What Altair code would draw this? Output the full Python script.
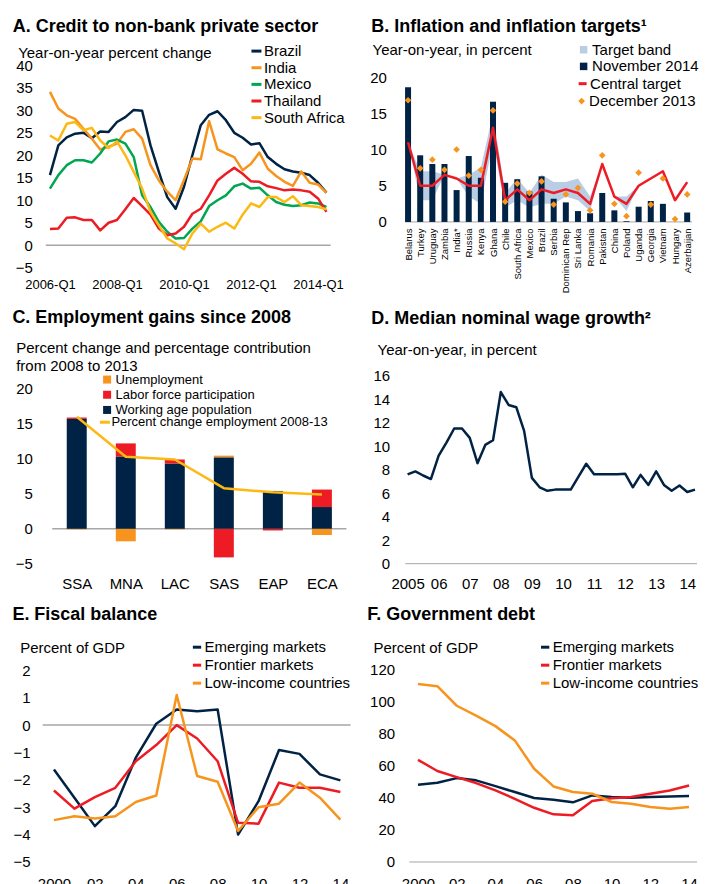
import altair as alt
import pandas as pd

FONT = "Liberation Sans"
NAVY = "#002345"
ORANGE = "#F7941D"
GREEN = "#00A651"
RED = "#ED1C24"
YELLOW = "#FDB913"
BAND = "#B9CDE5"
GREY = "#A6A6A6"

# ---------------- Panel A data ----------------
quarters = [f"{y}-Q{q}" for y in range(2006, 2015) for q in range(1, 5)][:34]
credit_names = ["Brazil", "India", "Mexico", "Thailand", "South Africa"]
brazil = [15.6, 22.2, 24.0, 24.8, 25.0, 23.8, 25.3, 25.2, 27.4, 28.5, 30.1, 29.9, 22.2, 16.3, 10.7, 8.1, 13.0,
          20.0, 26.7, 29.0, 29.8, 27.8, 25.0, 23.9, 22.4, 22.7, 19.6, 18.1, 16.9, 16.4, 16.1, 15.6, 13.9, 11.7]
india = [34.1, 30.4, 28.9, 28.1, 25.9, 23.7, 21.3, 21.9, 22.6, 25.2, 25.8, 23.7, 17.8, 14.4, 11.9, 10.0, 14.5,
         19.3, 19.1, 27.6, 21.3, 20.4, 19.6, 16.7, 18.1, 20.6, 17.0, 15.4, 14.1, 13.2, 16.4, 13.9, 13.5, 11.7]
mexico = [12.6, 15.6, 17.8, 18.9, 18.9, 18.4, 20.4, 23.1, 23.5, 22.6, 19.6, 11.1, 8.5, 5.2, 3.0, 1.5, 1.6,
          3.7, 5.3, 8.7, 10.0, 11.1, 13.1, 13.7, 12.6, 12.8, 11.1, 9.6, 9.0, 8.7, 8.9, 9.5, 9.3, 8.5]
thailand = [3.6, 3.7, 6.1, 6.2, 5.6, 5.6, 3.3, 5.0, 5.6, 8.0, 10.5, 8.7, 6.8, 3.7, 2.2, 2.6, 4.1,
            7.0, 8.1, 11.1, 14.4, 15.9, 17.2, 15.9, 14.2, 14.1, 13.1, 12.7, 12.2, 12.4, 12.2, 11.9, 10.4, 7.4]
south_africa = [24.4, 23.3, 27.0, 27.4, 25.6, 26.1, 23.3, 21.6, 23.1, 20.0, 16.3, 12.6, 7.4, 4.4, 1.5, 0.4, -0.9,
                2.6, 4.8, 3.0, 4.1, 5.0, 3.7, 6.8, 9.3, 8.5, 10.7, 10.7, 9.6, 10.9, 8.9, 8.7, 8.5, 8.0]

# ---------------- Panel B data ----------------
countries = ["Belarus", "Turkey", "Uruguay", "Zambia", "India*", "Russia", "Kenya", "Ghana", "Chile",
             "South Africa", "Mexico", "Brazil", "Serbia", "Dominican Rep", "Sri Lanka", "Romania",
             "Pakistan", "China", "Poland", "Uganda", "Georgia", "Vietnam", "Hungary", "Azerbaijan"]
nov2014 = [18.6, 9.2, 8.0, 8.0, 4.4, 9.1, 6.1, 16.6, 5.4, 5.9, 4.2, 6.3, 3.2, 2.7, 1.5, 1.2,
           4.0, 1.6, 0.1, 2.1, 2.9, 2.5, 0.0, 1.3]
central_target = [11, 5, 5, 6.5, 6, 5, 5, 13, 3, 4.5, 3, 4.5, 4, 4.5, 4, 2.5,
                  8, 3.5, 2.5, 5, 6, 7, 3, 5.5]
dec2013 = [16.8, 7.4, 8.6, 7.2, 10.0, 6.4, 7.2, 15.4, 2.8, 5.3, 4.0, 5.6, 2.4, 3.8, 4.7, 1.6,
           9.2, 2.5, 0.8, 6.8, 2.4, 6.0, 0.4, 3.8]
band_low = [11, 3, 3, 6.5, 6, 3.5, 2.5, 11, 2, 3, 2, 2.5, 2.5, 3.5, 3, 1.5,
            8, 3.5, 1.5, 5, 6, 7, 3, 5.5]
band_high = [11, 7, 7, 6.5, 6, 6.5, 7.5, 15, 4, 6, 4, 6.5, 5.5, 5.5, 6, 3.5,
             8, 3.5, 3.5, 5, 6, 7, 3, 5.5]

# ---------------- Panel C data ----------------
regions = ["SSA", "MNA", "LAC", "SAS", "EAP", "ECA"]
components = ["Unemployment", "Labor force participation", "Working age population"]
unemployment = [-0.1, -1.8, -0.1, 0.25, 0.0, -0.9]
labor_force = [0.2, 1.9, 0.6, -4.1, -0.25, 2.5]
working_age = [15.7, 10.3, 9.3, 10.2, 5.4, 3.1]
employment_change = [16.0, 10.3, 9.9, 5.8, 5.2, 4.9]

# ---------------- Panel D data ----------------
wage_year_labels = ["2005", "06", "07", "08", "09", "10", "11", "12", "13", "14"]
wage_growth = [7.6, 7.85, 7.5, 7.2, 9.2, 10.3, 11.5, 11.5, 10.7, 8.55, 10.1, 10.5, 14.6, 13.5, 13.3, 11.3,
               7.3, 6.5, 6.2, 6.3, 6.3, 6.3, 7.4, 8.5, 7.6, 7.6, 7.6, 7.6, 7.65, 6.5, 7.55, 6.7,
               7.85, 6.7, 6.2, 6.65, 6.1, 6.3]

# ---------------- Panel E / F data ----------------
years = list(range(2000, 2015))
year_labels = ["2000", "02", "04", "06", "08", "10", "12", "14"]
group_names = ["Emerging markets", "Frontier markets", "Low-income countries"]
em_balance = [-1.62, -2.65, -3.69, -2.96, -1.19, 0.05, 0.57, 0.51, 0.57, -4.0, -2.78, -0.91, -1.05, -1.8, -2.02]
fm_balance = [-2.39, -3.05, -2.63, -2.29, -1.32, -0.73, 0.0, -0.49, -1.32, -3.57, -3.6, -2.1, -2.29, -2.29, -2.44]
lic_balance = [-3.47, -3.33, -3.41, -3.33, -2.81, -2.57, 1.1, -1.86, -2.07, -3.87, -3.0, -2.87, -2.1, -2.65, -3.45]
em_debt = [48.2, 49.4, 52.3, 50.9, 47.3, 43.6, 39.9, 38.8, 37.2, 41.5, 40.5, 40.1, 40.5, 40.9, 41.1]
fm_debt = [63.7, 56.7, 52.9, 49.2, 44.6, 39.4, 33.8, 29.7, 29.1, 38.0, 39.7, 40.5, 42.6, 44.6, 47.7]
lic_debt = [111.0, 109.6, 97.4, 91.3, 84.7, 75.8, 58.1, 47.1, 43.6, 42.6, 37.4, 36.3, 34.3, 33.2, 34.3]


# ---------------- helpers ----------------
def arr_expr(labels, index_expr):
    return "[" + ",".join("'" + s + "'" for s in labels) + "][" + index_expr + "]"


def ttl(text, dx, offset):
    return alt.TitleParams(text=text, anchor="start", frame="group", dx=dx, offset=offset,
                           font=FONT, fontSize=18, fontWeight="bold", color="#000")


def yaxis(values, title, tx, ty, pad, line_height=None):
    kw = dict(values=values, title=title, titleAngle=0, titleAlign="left", titleBaseline="alphabetic",
              titleX=tx, titleY=ty, titleFontSize=15, titleFontWeight="normal", titleFont=FONT,
              titleColor="#000", labelFont=FONT, labelFontSize=15, labelColor="#000", labelPadding=pad,
              domain=False, ticks=False, grid=False, labelFlush=False, labelOverlap=False)
    if line_height:
        kw["titleLineHeight"] = line_height
    return alt.Axis(**kw)


def xaxis(values, expr, size, pad, angle=0, offset=0):
    kw = dict(values=values, labelExpr=expr, title=None, labelFont=FONT, labelFontSize=size,
              labelColor="#000", labelPadding=pad, domain=False, ticks=False, grid=False,
              labelFlush=False, labelOverlap=False, labelAngle=angle)
    if offset:
        kw["offset"] = offset
    return alt.Axis(**kw)


def legend(x, y, stype, ssize, fsize=15, rowpad=0.65, offset=1, swidth=0):
    return alt.Legend(orient="none", legendX=x, legendY=y, title=None, symbolType=stype,
                      symbolSize=ssize, symbolStrokeWidth=swidth, labelFont=FONT, labelFontSize=fsize,
                      labelColor="#000", labelOffset=offset, rowPadding=rowpad, padding=0,
                      labelLimit=400)


def base_rule(x0, x1, y0, xs, ys, xa, ya, width):
    return alt.Chart(one_row).mark_rule(color=GREY, strokeWidth=width).encode(
        x=alt.X(datum=x0, scale=xs, axis=xa), x2=alt.datum(x1),
        y=alt.Y(datum=y0, scale=ys, axis=ya))


one_row = alt.Data(values=[{}])
LEFT_W = 344
RIGHT_W = 301

# ---------------- Panel A ----------------
dfA = pd.DataFrame([{"q": i, "v": v, "s": n}
                    for n, arr in zip(credit_names, [brazil, india, mexico, thailand, south_africa])
                    for i, v in enumerate(arr)])
xsA = alt.Scale(domain=[-0.871, 40.15], nice=False, zero=False)
ysA = alt.Scale(domain=[-5, 51.33], nice=False, zero=False)
xaA = xaxis([0, 8, 16, 24, 32], arr_expr(quarters, "datum.value"), 13, 11)
yaA = yaxis([-5, 0, 5, 10, 15, 20, 25, 30, 35, 40], "Year-on-year percent change", -25, 42.7, 10.3)
ruleA = base_rule(-0.5, 33.5, 0, xsA, ysA, xaA, yaA, 1.5)
linesA = alt.Chart(dfA).mark_line(strokeWidth=2.5, strokeJoin="round").encode(
    x=alt.X("q:Q", scale=xsA, axis=xaA),
    y=alt.Y("v:Q", scale=ysA, axis=yaA, stack=None),
    color=alt.Color("s:N", scale=alt.Scale(domain=credit_names, range=[NAVY, ORANGE, GREEN, RED, YELLOW]),
                    sort=credit_names, legend=legend(206.5, 29.2, "stroke", 100, offset=0, swidth=3)))
panelA = alt.layer(ruleA, linesA).properties(
    width=LEFT_W, height=253.5, title=ttl("A. Credit to non-bank private sector", -30, -21.5))

# ---------------- Panel B ----------------
dfB = pd.DataFrame({"i": list(range(len(countries))), "country": countries, "nov": nov2014,
                    "central": central_target, "dec": dec2013, "low": band_low, "high": band_high})
xsB = alt.Scale(domain=[-0.557, 23.398], nice=False, zero=False)
ysB = alt.Scale(domain=[-6.317, 28.65], nice=False, zero=False)
xaB = xaxis(list(range(len(countries))), arr_expr(countries, "datum.value"), 9.5, 6,
            angle=270, offset=-45.8)
yaB = yaxis([0, 5, 10, 15, 20], "Year-on-year, in percent", -24.3, 40.3, 10)
baseB = alt.Chart(dfB)
ruleB = base_rule(-0.239, 23.398, 0, xsB, ysB, xaB, yaB, 1)
bandB = baseB.mark_area(opacity=1).transform_calculate(k="'Target band'").encode(
    x=alt.X("i:Q", scale=xsB, axis=xaB),
    y=alt.Y("low:Q", scale=ysB, axis=yaB, stack=None), y2="high:Q",
    color=alt.Color("k:N", scale=alt.Scale(domain=["Target band"], range=[BAND]),
                    legend=legend(180, 27.8, "square", 56, rowpad=2, offset=1)))
barsB = baseB.mark_bar(size=6).transform_calculate(k="'November 2014'").encode(
    x=alt.X("i:Q", scale=xsB, axis=xaB),
    y=alt.Y("nov:Q", scale=ysB, axis=yaB, stack=None),
    color=alt.Color("k:N", scale=alt.Scale(domain=["November 2014"], range=[NAVY]),
                    legend=legend(180, 44.5, "square", 56, rowpad=2, offset=1)))
lineB = baseB.mark_line(strokeWidth=2.5, strokeJoin="round").transform_calculate(k="'Central target'").encode(
    x=alt.X("i:Q", scale=xsB, axis=xaB),
    y=alt.Y("central:Q", scale=ysB, axis=yaB, stack=None),
    color=alt.Color("k:N", scale=alt.Scale(domain=["Central target"], range=[RED]),
                    legend=legend(179, 61.8, "stroke", 64, rowpad=2, offset=0, swidth=3)))
ptsB = baseB.mark_point(shape="diamond", filled=True, size=45, opacity=1).transform_calculate(
    k="'December 2013'").encode(
    x=alt.X("i:Q", scale=xsB, axis=xaB),
    y=alt.Y("dec:Q", scale=ysB, axis=yaB, stack=None),
    color=alt.Color("k:N", scale=alt.Scale(domain=["December 2013"], range=[ORANGE]),
                    legend=legend(178, 79.2, "diamond", 45, rowpad=2, offset=0)))
panelB = alt.layer(ruleB, bandB, barsB, lineB, ptsB).resolve_scale(color="independent").properties(
    width=RIGHT_W, height=253.5, title=ttl("B. Inflation and inflation targets\u00b9", -25, -21.5))

# ---------------- Panel C ----------------
comp_order = {"Working age population": 0, "Labor force participation": 1, "Unemployment": 2}
dfC = pd.DataFrame([{"i": i, "comp": c, "v": v, "o": comp_order[c]}
                    for c, arr in zip(components, [unemployment, labor_force, working_age])
                    for i, v in enumerate(arr)])
dfC2 = pd.DataFrame({"i": list(range(len(regions))), "emp": employment_change})
xsC = alt.Scale(domain=[-0.593, 6.212], nice=False, zero=False)
ysC = alt.Scale(domain=[-5, 31.97], nice=False, zero=False)
xaC = xaxis(list(range(len(regions))), arr_expr(regions, "datum.value"), 15, 12.9)
yaC = yaxis([-5, 0, 5, 10, 15, 20], ["Percent change and percentage contribution", "from 2008 to 2013"],
            -27, 47.2, 10.3, line_height=18.3)
ruleC = base_rule(-0.5, 5.5, 0, xsC, ysC, xaC, yaC, 1.5)
barsC = alt.Chart(dfC).mark_bar(size=20).encode(
    x=alt.X("i:Q", scale=xsC, axis=xaC),
    y=alt.Y("v:Q", scale=ysC, axis=yaC, stack="zero"),
    order=alt.Order("o:Q"),
    color=alt.Color("comp:N", scale=alt.Scale(domain=components, range=[ORANGE, RED, NAVY]),
                    sort=components, legend=legend(58, 68, "square", 64, fsize=13, rowpad=1.2, offset=2)))
lineC = alt.Chart(dfC2).mark_line(strokeWidth=2.5, strokeJoin="round").transform_calculate(
    k="'Percent change employment 2008-13'").encode(
    x=alt.X("i:Q", scale=xsC, axis=xaC),
    y=alt.Y("emp:Q", scale=ysC, axis=yaC, stack=None),
    color=alt.Color("k:N", scale=alt.Scale(domain=["Percent change employment 2008-13"], range=[YELLOW]),
                    legend=legend(55.8, 110.7, "stroke", 100, fsize=13, rowpad=1.2, offset=0, swidth=3)))
panelC = alt.layer(ruleC, barsC, lineC).resolve_scale(color="independent").properties(
    width=LEFT_W, height=258.8, title=ttl("C. Employment gains since 2008", -30.3, -22))

# ---------------- Panel D ----------------
dfD = pd.DataFrame({"q": list(range(len(wage_growth))), "v": wage_growth})
xsD = alt.Scale(domain=[-1.453, 37.256], nice=False, zero=False)
ysD = alt.Scale(domain=[0, 21.99], nice=False, zero=False)
xaD = xaxis(list(range(0, 37, 4)), arr_expr(wage_year_labels, "datum.value/4"), 15, 13)
yaD = yaxis([0, 2, 4, 6, 8, 10, 12, 14, 16], "Year-on-year, in percent", -19.3, 49.5, 6.7)
ruleD = base_rule(-0.296, 37.256, 0, xsD, ysD, xaD, yaD, 1)
lineD = alt.Chart(dfD).mark_line(strokeWidth=2.5, strokeJoin="round", color=NAVY).encode(
    x=alt.X("q:Q", scale=xsD, axis=xaD),
    y=alt.Y("v:Q", scale=ysD, axis=yaD))
panelD = alt.layer(ruleD, lineD).properties(
    width=RIGHT_W, height=258.8, title=ttl("D. Median nominal wage growth\u00b2", -25, -22.6))

# ---------------- Panel E ----------------
dfE = pd.DataFrame([{"y": yr, "v": v, "g": g}
                    for g, arr in zip(group_names, [em_balance, fm_balance, lic_balance])
                    for yr, v in zip(years, arr)])
xsE = alt.Scale(domain=[1999.448, 2016.245], nice=False, zero=False)
ysE = alt.Scale(domain=[-5, 4.54], nice=False, zero=False)
xaE = xaxis(list(range(2000, 2015, 2)), arr_expr(year_labels, "(datum.value-2000)/2"), 15, 15)
yaE = yaxis([-5, -4, -3, -2, -1, 0, 1, 2], "Percent of GDP", -23, 51.4, 12.7)
ruleE = base_rule(1999.45, 2014.5, 0, xsE, ysE, xaE, yaE, 1.5)
linesE = alt.Chart(dfE).mark_line(strokeWidth=2.5, strokeJoin="round").encode(
    x=alt.X("y:Q", scale=xsE, axis=xaE),
    y=alt.Y("v:Q", scale=ysE, axis=yaE, stack=None),
    color=alt.Color("g:N", scale=alt.Scale(domain=group_names, range=[NAVY, RED, ORANGE]),
                    sort=group_names, legend=legend(147, 38.9, "stroke", 69, rowpad=2, offset=0, swidth=3)))
panelE = alt.layer(ruleE, linesE).properties(
    width=LEFT_W, height=261.4, title=ttl("E. Fiscal balance", -30.3, -23.5))

# ---------------- Panel F ----------------
dfF = pd.DataFrame([{"y": yr, "v": v, "g": g}
                    for g, arr in zip(group_names, [em_debt, fm_debt, lic_debt])
                    for yr, v in zip(years, arr)])
xsF = alt.Scale(domain=[1998.880, 2014.411], nice=False, zero=False)
ysF = alt.Scale(domain=[0, 162.8], nice=False, zero=False)
xaF = xaxis(list(range(2000, 2015, 2)), arr_expr(year_labels, "(datum.value-2000)/2"), 15, 15)
yaF = yaxis([0, 20, 40, 60, 80, 100, 120], "Percent of GDP", -23.3, 51.4, 1.7)
ruleF = base_rule(1999.551, 2014.411, 0, xsF, ysF, xaF, yaF, 1)
linesF = alt.Chart(dfF).mark_line(strokeWidth=2.5, strokeJoin="round").encode(
    x=alt.X("y:Q", scale=xsF, axis=xaF),
    y=alt.Y("v:Q", scale=ysF, axis=yaF, stack=None),
    color=alt.Color("g:N", scale=alt.Scale(domain=group_names, range=[NAVY, RED, ORANGE]),
                    sort=group_names, legend=legend(141.5, 38.9, "stroke", 69, rowpad=2, offset=0, swidth=3)))
panelF = alt.layer(ruleF, linesF).properties(
    width=RIGHT_W, height=261.4, title=ttl("F. Government debt", -29, -23.5))

chart = alt.concat(panelA, panelB, panelC, panelD, panelE, panelF, columns=2,
                   spacing={"row": 37, "column": 10}, bounds="flush", align="none").resolve_scale(
    color="independent", x="independent", y="independent").properties(
    padding={"left": 3.7, "top": 6, "right": 0, "bottom": 0}
).configure(font=FONT).configure_view(stroke=None)

chart.save("out.html", embed_options={"renderer": "svg", "actions": False})
